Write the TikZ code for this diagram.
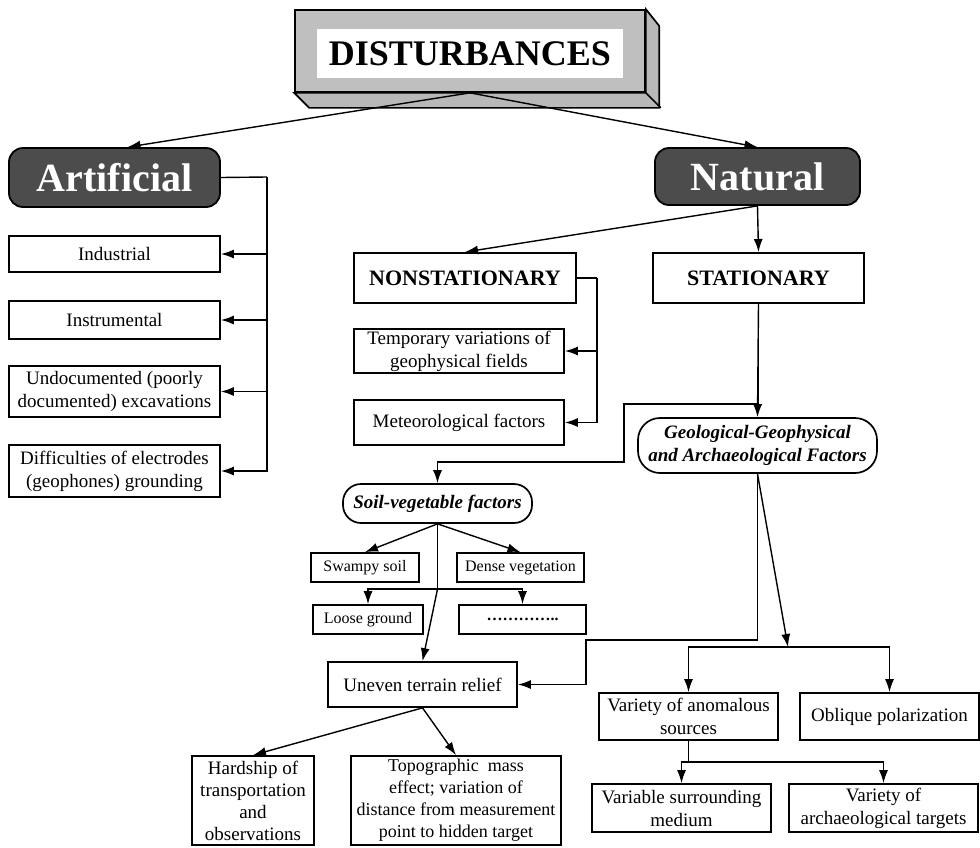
\documentclass[tikz,border=0pt]{standalone}
\usepackage{fontspec}
\setmainfont{Liberation Serif}
\usetikzlibrary{arrows.meta}

\begin{document}
\begin{tikzpicture}[x=1pt, y=-1pt,
    box/.style={rectangle, draw, line width=1.7pt, inner sep=0pt, align=center, font=\fontsize{19}{23}\selectfont},
    smallbox/.style={box, font=\fontsize{16}{19}\selectfont},
    headbox/.style={box, line width=2pt, font=\bfseries\fontsize{22}{26}\selectfont},
    darkbox/.style={rectangle, rounded corners=14pt, draw, line width=1.8pt, fill=black!70, text=white, inner sep=0pt, font=\bfseries\fontsize{40}{44}\selectfont},
    pillbox/.style={box, rounded corners=18pt, font=\bfseries\itshape\fontsize{19}{23}\selectfont},
    arrow/.style={-{Latex[length=13pt,width=9pt]}, line width=1.4pt},
    line/.style={line width=1.4pt}
]
    \useasboundingbox (0,0) rectangle (980,847);

    % Title block
    \node[rectangle, draw, line width=1.7pt, fill=black!25, minimum width=350pt, minimum height=82pt] (dist) at (470,51) {};
    \draw[line width=1.7pt, fill=black!28] (dist.south west) -- ++(15,15) -- ++(350,0) -- ++(0,-82) -- (dist.north east) -- (dist.south east) -- cycle;
    \draw[line width=1.7pt] (dist.south east) -- ++(15,15);
    \node[fill=white, inner sep=0pt, minimum width=306pt, minimum height=49pt, font=\bfseries\fontsize{36}{40}\selectfont] (disttext) at (470,53.5) {DISTURBANCES};

    % Main groups
    \node[darkbox, minimum width=211pt, minimum height=59pt] (art) at (114.5,177.5) {Artificial};
    \node[darkbox, minimum width=205pt, minimum height=57pt] (nat) at (757.5,176.5) {Natural};

    % Artificial group
    \node[box, minimum width=211pt, minimum height=36pt] (ind) at (114.5,254) {Industrial};
    \node[box, minimum width=211pt, minimum height=38pt] (ins) at (114.5,320) {Instrumental};
    \node[box, minimum width=211pt, minimum height=51pt] (undoc) at (114.5,391.5) {Undocumented (poorly\\documented) excavations};
    \node[box, minimum width=211pt, minimum height=52pt] (diff) at (114.5,471) {Difficulties of electrodes\\(geophones) grounding};

    % Natural group
    \node[headbox, minimum width=222pt, minimum height=50pt] (nonst) at (465,278) {NONSTATIONARY};
    \node[headbox, minimum width=211pt, minimum height=50pt] (stat) at (758.5,278) {STATIONARY};
    \node[box, minimum width=210pt, minimum height=44pt] (temp) at (459,351) {Temporary variations of\\geophysical fields};
    \node[box, minimum width=210pt, minimum height=45pt] (meteo) at (459,422.5) {Meteorological factors};
    \node[pillbox, rounded corners=22pt, minimum width=239pt, minimum height=55pt] (geo) at (757.5,445.5) {Geological-Geophysical\\and Archaeological Factors};

    % Soil-vegetable factors
    \node[pillbox, minimum width=189pt, minimum height=39pt] (soil) at (437.5,503.5) {Soil-vegetable factors};
    \node[smallbox, minimum width=108pt, minimum height=29pt] (swamp) at (365,567.5) {Swampy soil};
    \node[smallbox, minimum width=127pt, minimum height=29pt] (dense) at (520.5,567.5) {Dense vegetation};
    \node[smallbox, minimum width=110pt, minimum height=29pt] (loose) at (368,619.5) {Loose ground};
    \node[smallbox, minimum width=127pt, minimum height=29pt] (dots) at (522.5,619.5) {\textbf{…………..}};
    \node[box, minimum width=189pt, minimum height=45pt] (uneven) at (422.5,684.5) {Uneven terrain relief};
    \node[box, minimum width=122pt, minimum height=89pt, font=\fontsize{19}{22}\selectfont] (hard) at (253,800.5) {Hardship of\\transportation\\and\\observations};
    \node[box, minimum width=210pt, minimum height=89pt, font=\fontsize{18}{22}\selectfont] (topo) at (456,800.5) {Topographic\ \ mass\\effect; variation of\\distance from measurement\\point to hidden target};

    % Geological factors
    \node[box, minimum width=179pt, minimum height=47pt] (anom) at (688.5,716.5) {Variety of anomalous\\sources};
    \node[box, minimum width=179pt, minimum height=47pt] (obl) at (889.5,716.5) {Oblique polarization};
    \node[box, minimum width=179pt, minimum height=48pt] (medium) at (681.5,808) {Variable surrounding\\medium};
    \node[box, minimum width=189pt, minimum height=48pt] (targ) at (883.5,808) {Variety of\\archaeological targets};

    % Bus points
    \coordinate (artbus) at (267,177);
    \coordinate (nsbus) at (597,278);
    \coordinate (stbus) at (624,404);
    \coordinate (soilbus) at (437.5,589);
    \coordinate (geobus) at (586,640);
    \coordinate (geojoin) at (788,647);
    \coordinate (anombus) at (688.5,762);

    % Arrows
    \draw[arrow] (dist.south) -- ([xshift=13pt]art.north);
    \draw[arrow] (dist.south) -- (nat.north);
    \draw[line] (art.east) -- (artbus);
    \draw[arrow] (artbus) |- (diff.east);
    \draw[arrow] (artbus |- ind.east) -- (ind.east);
    \draw[arrow] (artbus |- ins.east) -- (ins.east);
    \draw[arrow] (artbus |- undoc.east) -- (undoc.east);
    \draw[arrow] (nat.south) -- (nonst.north);
    \draw[arrow] (nat.south) -- (stat.north);
    \draw[line] (nonst.east) -- (nsbus);
    \draw[arrow] (nsbus) |- (meteo.east);
    \draw[arrow] (nsbus |- temp.east) -- (temp.east);
    \draw[arrow] (stat.south) -- (geo.north);
    \draw[arrow] (stat.south) |- (stbus) -- ++(0,58) -| (soil.north);
    \draw[arrow] (soil.south) -- (swamp.north);
    \draw[arrow] (soil.south) -- (dense.north);
    \draw[line] (soil.south) -- (soilbus);
    \draw[arrow] (soilbus) -| (loose.north);
    \draw[arrow] (soilbus) -| (dots.north);
    \draw[arrow] (soilbus) -- (uneven.north);
    \draw[arrow] (geo.south) |- (geobus) |- (uneven.east);
    \draw[arrow] (geo.south) -- (geojoin);
    \draw[arrow] (geojoin) -| (anom.north);
    \draw[arrow] (geojoin) -| (obl.north);
    \draw[line] (anom.south) -- (anombus);
    \draw[arrow] (anombus) -| (medium.north);
    \draw[arrow] (anombus) -| (targ.north);
    \draw[arrow] (uneven.south) -- (hard.north);
    \draw[arrow] (uneven.south) -- (topo.north);
\end{tikzpicture}
\end{document}
